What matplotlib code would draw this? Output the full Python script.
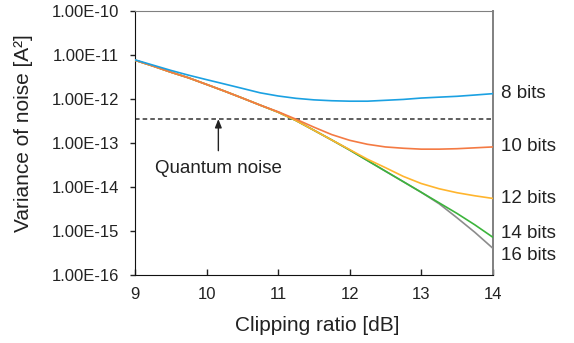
import numpy as np
import matplotlib
matplotlib.use('Agg')
import matplotlib.pyplot as plt
from matplotlib.ticker import FixedLocator, FuncFormatter, NullLocator


clipping_db = [9.0, 9.25, 9.5, 9.75, 10.0, 10.25, 10.5, 10.75, 11.0, 11.25, 11.5,
               11.75, 12.0, 12.25, 12.5, 12.75, 13.0, 13.25, 13.5, 13.75, 14.0]

noise_8bit = [7.76e-12, 5.89e-12, 4.47e-12, 3.47e-12, 2.75e-12, 2.19e-12, 1.74e-12,
              1.38e-12, 1.17e-12, 1.035e-12, 9.55e-13, 9.12e-13, 8.91e-13, 8.91e-13,
              9.33e-13, 9.77e-13, 1.05e-12, 1.10e-12, 1.15e-12, 1.23e-12, 1.32e-12]
noise_10bit = [7.59e-12, 5.62e-12, 4.07e-12, 3.02e-12, 2.14e-12, 1.51e-12, 1.05e-12,
               7.24e-13, 5.13e-13, 3.47e-13, 2.29e-13, 1.55e-13, 1.15e-13, 9.33e-14,
               8.13e-14, 7.59e-14, 7.24e-14, 7.24e-14, 7.41e-14, 7.76e-14, 8.13e-14]
noise_12bit = [7.59e-12, 5.62e-12, 4.07e-12, 3.02e-12, 2.14e-12, 1.51e-12, 1.05e-12,
               7.24e-13, 5.01e-13, 3.24e-13, 1.95e-13, 1.17e-13, 7.08e-14, 4.27e-14,
               2.75e-14, 1.74e-14, 1.20e-14, 9.12e-15, 7.41e-15, 6.31e-15, 5.50e-15]
noise_14bit = [7.59e-12, 5.62e-12, 4.07e-12, 3.02e-12, 2.14e-12, 1.51e-12, 1.05e-12,
               7.24e-13, 5.01e-13, 3.24e-13, 1.95e-13, 1.17e-13, 6.92e-14, 3.98e-14,
               2.29e-14, 1.32e-14, 7.59e-15, 4.37e-15, 2.51e-15, 1.38e-15, 7.24e-16]
noise_16bit = [7.59e-12, 5.62e-12, 4.07e-12, 3.02e-12, 2.14e-12, 1.51e-12, 1.05e-12,
               7.24e-13, 5.01e-13, 3.24e-13, 1.95e-13, 1.17e-13, 6.92e-14, 3.98e-14,
               2.29e-14, 1.32e-14, 7.59e-15, 4.17e-15, 2.00e-15, 9.33e-16, 4.07e-16]

quantum_noise = 3.5e-13

series_labels = ['8 bits', '10 bits', '12 bits', '14 bits', '16 bits']
x_ticks = [9, 10, 11, 12, 13, 14]
y_ticks = [1e-16, 1e-15, 1e-14, 1e-13, 1e-12, 1e-11, 1e-10]


def main():
	plt.rcParams['font.family'] = ['Liberation Sans', 'DejaVu Sans']

	fig = plt.figure(figsize=(5.74, 3.43), dpi=100)
	ax = fig.add_axes([0.2352, 0.1983, 0.6232, 0.7697])

	curves = [noise_8bit, noise_10bit, noise_12bit, noise_14bit, noise_16bit]
	colors = ['#1ba1e2', '#f47a43', '#ffb52e', '#3cb43c', '#8c8c8c']
	label_dy = [0, 0, 0, 2.7, -5.5]

	# draw the high resolution curves first so 8 bits sits on top
	for i in reversed(range(len(curves))):
		ax.plot(clipping_db, curves[i], color=colors[i], lw=1.2, zorder=3 + (4 - i))

	for i, name in enumerate(series_labels):
		ax.annotate(name, xy=(clipping_db[-1], curves[i][-1]), xytext=(6, label_dy[i]),
					textcoords='offset points', ha='left', va='center', fontsize=13.5,
					color='#222222', annotation_clip=False)

	ax.axhline(quantum_noise, color='#333333', lw=1.1, dashes=(3, 2), zorder=2)
	ax.annotate('', xy=(10.165, quantum_noise), xytext=(10.165, 10 ** -13.175),
				arrowprops=dict(arrowstyle='-|>,head_length=0.5,head_width=0.2',
								color='#222222', lw=1.0, shrinkA=0, shrinkB=0))
	ax.text(10.165, 10 ** -13.58, 'Quantum noise', ha='center', va='center',
			fontsize=13.5, color='#222222')

	ax.set_yscale('log')
	ax.set_xlim(9, 14)
	ax.set_ylim(1e-16, 1e-10)
	ax.xaxis.set_major_locator(FixedLocator(x_ticks))
	ax.yaxis.set_major_locator(FixedLocator(y_ticks))
	ax.yaxis.set_minor_locator(NullLocator())
	ax.yaxis.set_major_formatter(FuncFormatter(lambda v, p: f'{v:.2E}'))

	ax.tick_params(axis='x', direction='in', length=4, width=1, labelsize=12, pad=9,
				   colors='#222222')
	ax.tick_params(axis='y', direction='out', length=3.5, width=1, labelsize=12, pad=8,
				   colors='#222222')

	ax.spines['left'].set_color('#111111')
	ax.spines['bottom'].set_color('#111111')
	ax.spines['top'].set_color('#808080')
	ax.spines['right'].set_color('#808080')
	ax.spines['right'].set_linewidth(1.4)

	ax.set_xlabel('Clipping ratio [dB]', fontsize=15, color='#222222')
	ax.xaxis.set_label_coords(0.51, -0.155)
	ax.set_ylabel('Variance of noise [A²]', fontsize=15, color='#222222')
	ax.yaxis.set_label_coords(-0.285, 0.538)

	fig.savefig('out.png', dpi=100)


if __name__ == '__main__':
	main()
